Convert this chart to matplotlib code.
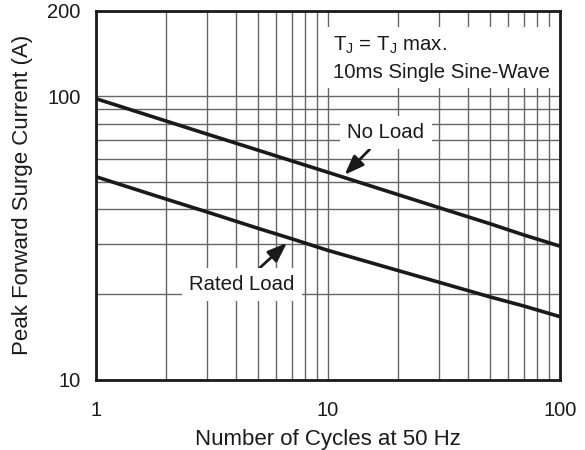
import numpy as np
from matplotlib import pyplot as plt
from matplotlib.ticker import FixedLocator, NullFormatter

plt.rcParams['font.family'] = ['Liberation Sans', 'DejaVu Sans']
plt.rcParams['mathtext.fontset'] = 'custom'
plt.rcParams['mathtext.rm'] = 'Liberation Sans'
plt.rcParams['mathtext.it'] = 'Liberation Sans'

# data
cycles = [1, 2, 3, 5, 7, 10, 20, 30, 50, 70, 100]
no_load = [98, 81.8, 73.6, 64.5, 59.1, 53.9, 45.0, 40.5, 35.5, 32.4, 29.6]
rated_load = [52, 43.4, 39.1, 34.2, 31.4, 28.6, 24.3, 22.1, 19.6, 18.2, 16.7]

x_major = [1, 10, 100]
x_minor = [2, 3, 4, 5, 6, 7, 8, 9, 20, 30, 40, 50, 60, 70, 80, 90]
y_major = [10, 100, 200]
y_minor = [20, 30, 40, 50, 60, 70, 80, 90]

txt = '#1a1a1a'
fig = plt.figure(figsize=(5.85, 4.5), dpi=100)
ax = fig.add_axes([0.164, 0.156, 0.793, 0.82])

ax.plot(cycles, no_load, color='#1a1a1a', lw=2.6, zorder=3, solid_capstyle='butt')
ax.plot(cycles, rated_load, color='#1a1a1a', lw=2.6, zorder=3, solid_capstyle='butt')

ax.set_xscale('log')
ax.set_yscale('log')
ax.set_xlim(1, 100)
ax.set_ylim(10, 200)

ax.xaxis.set_major_locator(FixedLocator(x_major))
ax.xaxis.set_minor_locator(FixedLocator(x_minor))
ax.yaxis.set_major_locator(FixedLocator(y_major))
ax.yaxis.set_minor_locator(FixedLocator(y_minor))
ax.set_xticklabels([str(v) for v in x_major])
ax.set_yticklabels([str(v) for v in y_major])
ax.xaxis.set_minor_formatter(NullFormatter())
ax.yaxis.set_minor_formatter(NullFormatter())
ax.tick_params(which='both', length=0, labelsize=14.5, colors=txt)
ax.tick_params(axis='x', pad=15)
ax.tick_params(axis='y', pad=11)

ax.grid(True, which='both', color='#666666', lw=1.0, zorder=1)
ax.set_axisbelow(True)
for s in ax.spines.values():
    s.set_linewidth(2.0)
    s.set_color('#1a1a1a')
    s.set_zorder(5)

ax.set_xlabel('Number of Cycles at 50 Hz', fontsize=16, color=txt, labelpad=7)
ax.set_ylabel('Peak Forward Surge Current (A)', fontsize=16, color=txt, labelpad=10)

ax.text(0.511, 0.935, 'T$_\\mathrm{J}$ = T$_\\mathrm{J}$ max.\n10ms Single Sine-Wave',
        transform=ax.transAxes, ha='left', va='top', fontsize=14.7,
        color=txt, linespacing=1.45,
        bbox=dict(facecolor='white', edgecolor='none', boxstyle='square,pad=0.3'),
        zorder=4)

box = dict(facecolor='white', edgecolor='none', boxstyle='square,pad=0.35')
head = dict(arrowstyle='-|>,head_length=0.8,head_width=0.3',
            color='#1a1a1a', lw=2, shrinkA=0, shrinkB=0)
ax.annotate('No Load', xy=(11.8, 52.8), xytext=(17.8, 74.3), fontsize=14.7, color=txt,
            ha='center', va='center', bbox=box, zorder=4, arrowprops=head)
ax.annotate('Rated Load', xy=(6.66, 30.4), xytext=(4.26, 21.7), fontsize=14.7, color=txt,
            ha='center', va='center', bbox=box, zorder=4, arrowprops=head)

plt.savefig('out.png', dpi=100)
plt.close(fig)
